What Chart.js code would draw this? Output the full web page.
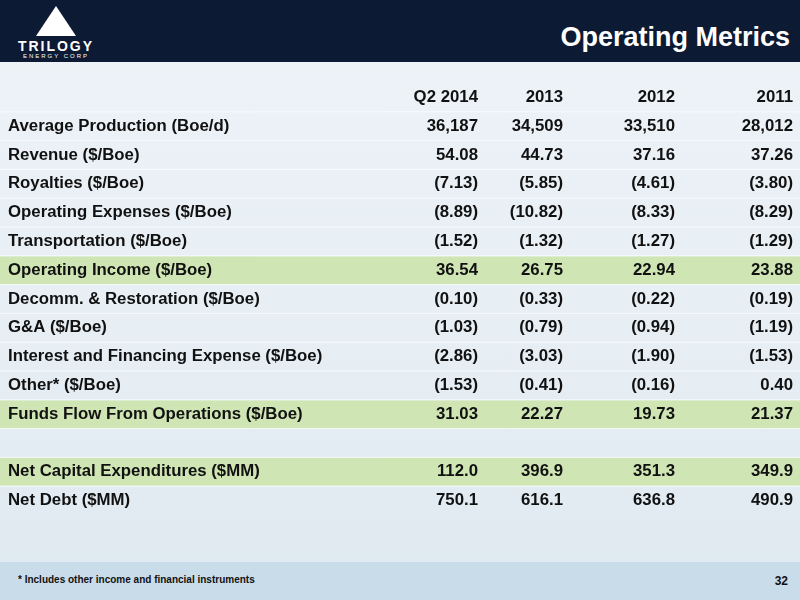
<!DOCTYPE html>
<html>
<head>
<meta charset="utf-8">
<script src="https://cdn.jsdelivr.net/npm/chart.js@4/dist/chart.umd.min.js"></script>
<style>
  body { margin: 0; width: 800px; height: 600px; overflow: hidden; font-family: "Liberation Sans", Arial, sans-serif; position: relative;
    background: linear-gradient(180deg, #eef3f7 0%, #e6eef4 60%, #dfe9f1 100%); }
  #top { position: absolute; left: 0; top: 0; width: 800px; height: 62px; background: #0c1a33; }
  #title { position: absolute; right: 10px; top: 22px; color: #fff; font-weight: bold; font-size: 27px; }
  #logo { position: absolute; left: 2px; top: 4px; width: 108px; text-align: center; color: #fff; }
  #tri { width: 0; height: 0; margin: 2px auto 0; border-left: 20px solid transparent; border-right: 20px solid transparent; border-bottom: 30px solid #fff; }
  #logo .n { font-size: 14px; font-weight: bold; letter-spacing: 2px; margin-top: 3px; line-height: 14px; }
  #logo .s { font-size: 6px; letter-spacing: 2px; line-height: 7px; }
  #foot { position: absolute; left: 0; top: 562px; width: 800px; height: 38px; background: #c9dcea; }
  #note { position: absolute; left: 18px; top: 12px; font-size: 10px; font-weight: bold; color: #111; }
  #page { position: absolute; right: 12px; top: 12px; font-size: 12px; font-weight: bold; color: #111; }
  #wrap { position: absolute; left: 0; top: 83px; width: 800px; height: 432px; }
</style>
</head>
<body>
<div id="top">
  <div id="logo"><div id="tri"></div><div class="n">TRILOGY</div><div class="s">ENERGY CORP</div></div>
  <div id="title">Operating Metrics</div>
</div>
<div id="wrap"><canvas id="c"></canvas></div>
<div id="foot"><div id="note">* Includes other income and financial instruments</div><div id="page">32</div></div>
<script>
var columns = ['Q2 2014', '2013', '2012', '2011'];
var rowLabels = ['', 'Average Production (Boe/d)', 'Revenue ($/Boe)', 'Royalties ($/Boe)', 'Operating Expenses ($/Boe)',
  'Transportation ($/Boe)', 'Operating Income ($/Boe)', 'Decomm. & Restoration ($/Boe)', 'G&A ($/Boe)',
  'Interest and Financing Expense ($/Boe)', 'Other* ($/Boe)', 'Funds Flow From Operations ($/Boe)', ' ',
  'Net Capital Expenditures ($MM)', 'Net Debt ($MM)'];
var q22014 = [null, '36,187', '54.08', '(7.13)', '(8.89)', '(1.52)', '36.54', '(0.10)', '(1.03)', '(2.86)', '(1.53)', '31.03', null, '112.0', '750.1'];
var y2013 = [null, '34,509', '44.73', '(5.85)', '(10.82)', '(1.32)', '26.75', '(0.33)', '(0.79)', '(3.03)', '(0.41)', '22.27', null, '396.9', '616.1'];
var y2012 = [null, '33,510', '37.16', '(4.61)', '(8.33)', '(1.27)', '22.94', '(0.22)', '(0.94)', '(1.90)', '(0.16)', '19.73', null, '351.3', '636.8'];
var y2011 = [null, '28,012', '37.26', '(3.80)', '(8.29)', '(1.29)', '23.88', '(0.19)', '(1.19)', '(1.53)', '0.40', '21.37', null, '349.9', '490.9'];
var highlighted = ['Operating Income ($/Boe)', 'Funds Flow From Operations ($/Boe)', 'Net Capital Expenditures ($MM)'];

var series = [q22014, y2013, y2012, y2011];
var colRight = [478, 563, 675, 793]; // layout: right edge of each value column

var tablePlugin = {
  id: 'table',
  afterDatasetsDraw: function (chart) {
    var ctx = chart.ctx, x = chart.scales.x, y = chart.scales.y;
    ctx.save();
    ctx.strokeStyle = 'rgba(255,255,255,0.7)';
    ctx.lineWidth = 1;
    for (var i = 1; i < rowLabels.length; i++) {
      var b = y.getPixelForValue(i) - (y.getPixelForValue(1) - y.getPixelForValue(0)) / 2;
      ctx.beginPath(); ctx.moveTo(0, b); ctx.lineTo(800, b); ctx.stroke();
    }
    ctx.fillStyle = '#111';
    ctx.font = 'bold 16.8px "Liberation Sans", Arial, sans-serif';
    ctx.textBaseline = 'middle';
    rowLabels.forEach(function (lab, i) {
      var py = y.getPixelForValue(i);
      ctx.textAlign = 'left';
      ctx.fillText(lab, x.getPixelForValue(8), py);
      ctx.textAlign = 'right';
      series.forEach(function (s, k) {
        var t = i === 0 ? columns[k] : s[i];
        if (t) ctx.fillText(t, x.getPixelForValue(colRight[k]), py);
      });
    });
    ctx.restore();
  }
};

new Chart(document.getElementById('c'), {
  type: 'bar',
  data: {
    labels: rowLabels,
    datasets: [{
      data: rowLabels.map(function (l) { return highlighted.indexOf(l) >= 0 ? [0, 800] : null; }),
      backgroundColor: '#cfe6b4',
      barPercentage: 1,
      categoryPercentage: 0.97
    }]
  },
  options: {
    indexAxis: 'y',
    responsive: true,
    maintainAspectRatio: false,
    animation: false,
    layout: { padding: 0 },
    plugins: { legend: { display: false }, tooltip: { enabled: false } },
    scales: {
      x: { type: 'linear', min: 0, max: 800, display: false },
      y: { display: false }
    }
  },
  plugins: [tablePlugin]
});
</script>
</body>
</html>
